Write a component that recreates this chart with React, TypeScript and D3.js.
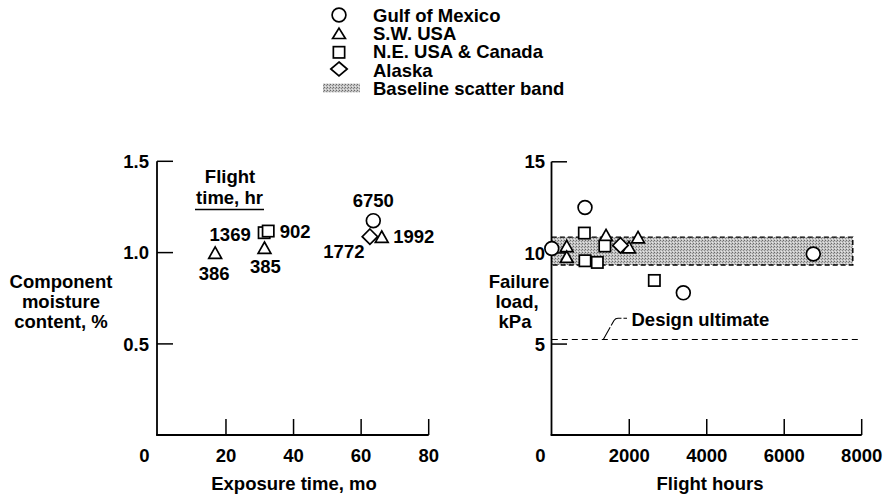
import React from "react";
import * as d3 from "d3";

// ---------- Data ----------
const seriesNames = ["Gulf of Mexico", "S.W. USA", "N.E. USA & Canada", "Alaska"];
const seriesKeys = ["gulf", "sw", "ne", "alaska"];

// Left panel: component moisture vs exposure time
const leftSeries = ["sw", "sw", "ne", "ne", "gulf", "alaska", "sw"];
const leftExposureMo = [16.8, 31.4, 31.3, 32.5, 63.6, 62.6, 66.1];
const leftMoisturePct = [1.0, 1.027, 1.109, 1.118, 1.175, 1.087, 1.087];
const leftFlightHrLabels = ["386", "385", "1369", "902", "6750", "1772", "1992"];
const leftLabelOffsets: [number, number][] = [
  [-1, 21], [1, 19], [-34, 2], [27, 0], [0, -20], [-26, 15], [32, 0],
];

// Right panel: failure load vs flight hours
const rightSeries = [
  "gulf", "gulf", "gulf", "gulf",
  "sw", "sw", "sw", "sw", "sw",
  "ne", "ne", "ne", "ne", "ne",
  "alaska",
];
const rightFlightHours = [
  0, 857, 3395, 6750,
  385, 386, 1400, 1992, 2226,
  840, 857, 1175, 1369, 2647,
  1772,
];
const rightFailureKPa = [
  10.24, 12.49, 7.81, 9.94,
  10.38, 9.79, 10.98, 10.32, 10.87,
  11.09, 9.57, 9.48, 10.38, 8.49,
  10.41,
];

const bandHours = [0, 7770];
const bandKPa = [9.34, 10.87];
const designUltimateKPa = 5.25;

const leftXTicks = [0, 20, 40, 60, 80];
const leftYTicks = [0.5, 1.0, 1.5];
const rightXTicks = [0, 2000, 4000, 6000, 8000];
const rightYTicks = [5, 10, 15];

// ---------- Layout ----------
const W = 887;
const H = 495;
const FONT = "'Liberation Sans', Arial, Helvetica, sans-serif";
const FS = 18.5;

const xL = d3.scaleLinear().domain([0, 80]).range([158.4, 428.7]);
const yL = d3.scaleLinear().domain([0, 1.5]).range([435.2, 161.3]);
const xR = d3.scaleLinear().domain([0, 8000]).range([551.8, 861.7]);
const yR = d3.scaleLinear().domain([0, 15]).range([435.2, 161.8]);

const SW = 1.7;

function Marker({ kind, x, y, legend = false }: { kind: string; x: number; y: number; legend?: boolean }) {
  const common = { fill: "#fff", stroke: "#000", strokeWidth: SW };
  if (kind === "gulf") {
    return <circle cx={x} cy={y} r={6.9} {...common} />;
  }
  if (kind === "ne") {
    const s = 11.3;
    return <rect x={x - s / 2} y={y - s / 2} width={s} height={s} {...common} />;
  }
  if (kind === "sw") {
    const hw = 6.4;
    const hh = legend ? 5.2 : 5.7;
    return <path d={`M${x},${y - hh}L${x + hw},${y + hh}L${x - hw},${y + hh}Z`} {...common} strokeLinejoin="miter" />;
  }
  // alaska diamond
  const hw = legend ? 8.2 : 7.7;
  const hh = legend ? 7 : 7.7;
  return <path d={`M${x},${y - hh}L${x + hw},${y}L${x},${y + hh}L${x - hw},${y}Z`} {...common} />;
}

function T({ x, y, children, anchor = "middle" }: { x: number; y: number; children: React.ReactNode; anchor?: string }) {
  // y is the vertical centre of capitals
  return (
    <text x={x} y={y + 6.6} textAnchor={anchor as any} fontFamily={FONT} fontWeight="bold" fontSize={FS} fill="#000">
      {children}
    </text>
  );
}

export default function App() {
  const legendRows = [15, 33.3, 51.7, 70, 88.3];
  return (
    <svg width={W} height={H} style={{ position: "absolute", left: 0, top: 0, background: "#fff" }}>
      <defs>
        <pattern id="stipple" width="3" height="3" patternUnits="userSpaceOnUse">
          <rect width="3" height="3" fill="#c4c4c4" />
          <rect x="0" y="0" width="1" height="1" fill="#6a6a6a" />
          <rect x="2" y="1" width="1" height="1" fill="#8a8a8a" />
          <rect x="1" y="2" width="1" height="1" fill="#e6e6e6" />
        </pattern>
      </defs>
      <rect width={W} height={H} fill="#fff" />

      {/* Legend */}
      {seriesKeys.map((k, i) => (
        <g key={k}>
          <Marker kind={k} x={339} y={legendRows[i] + (k === "ne" ? 0.6 : k === "alaska" ? -1 : 0)} legend />
          <T x={373} y={legendRows[i]} anchor="start">{seriesNames[i]}</T>
        </g>
      ))}
      <rect x={323} y={83.5} width={37} height={9} fill="url(#stipple)" />
      <T x={373} y={legendRows[4]} anchor="start">Baseline scatter band</T>

      {/* ---------- Left panel ---------- */}
      <g>
        <line x1={157} y1={yL(1.5)} x2={157} y2={435.5} stroke="#000" strokeWidth={1.8} />
        <line x1={156.2} y1={435} x2={xL(80)} y2={435} stroke="#000" strokeWidth={1.8} />
        {leftYTicks.map((t) => (
          <g key={t}>
            <line x1={157} x2={173} y1={yL(t)} y2={yL(t)} stroke="#000" strokeWidth={1.5} />
            <T x={149} y={yL(t)} anchor="end">{t.toFixed(1)}</T>
          </g>
        ))}
        {leftXTicks.map((t) => (
          <g key={t}>
            {t > 0 && <line x1={xL(t)} x2={xL(t)} y1={435} y2={419} stroke="#000" strokeWidth={1.5} />}
            <T x={t === 0 ? xL(t) - 14 : xL(t)} y={455}>{String(t)}</T>
          </g>
        ))}
        <T x={294} y={483}>Exposure time, mo</T>
        <T x={61} y={281}>Component</T>
        <T x={61} y={301}>moisture</T>
        <T x={61} y={321}>content, %</T>

        <T x={230} y={176}>Flight</T>
        <T x={229.5} y={197.5}>time, hr</T>
        <line x1={195} x2={264} y1={209.5} y2={209.5} stroke="#000" strokeWidth={1.5} />

        {leftSeries.map((k, i) => (
          <Marker key={i} kind={k} x={xL(leftExposureMo[i])} y={yL(leftMoisturePct[i])} />
        ))}
        {leftFlightHrLabels.map((lab, i) => (
          <T key={lab} x={xL(leftExposureMo[i]) + leftLabelOffsets[i][0]} y={yL(leftMoisturePct[i]) + leftLabelOffsets[i][1]}>
            {lab}
          </T>
        ))}
      </g>

      {/* ---------- Right panel ---------- */}
      <g>
        {/* scatter band */}
        <rect
          x={xR(bandHours[0])}
          y={yR(bandKPa[1])}
          width={xR(bandHours[1]) - xR(bandHours[0])}
          height={yR(bandKPa[0]) - yR(bandKPa[1])}
          fill="url(#stipple)"
        />
        <path
          d={`M${xR(bandHours[0])},${yR(bandKPa[1])}H${xR(bandHours[1])}V${yR(bandKPa[0])}H${xR(bandHours[0])}`}
          fill="none"
          stroke="#000"
          strokeWidth={1.4}
          strokeDasharray="5,3"
        />
        {/* design ultimate */}
        <line
          x1={xR(0)}
          x2={xR(8000)}
          y1={yR(designUltimateKPa)}
          y2={yR(designUltimateKPa)}
          stroke="#000"
          strokeWidth={1}
          strokeDasharray="6,4"
        />
        <path d={`M603.3,${yR(designUltimateKPa)}L614,320.5Q615.5,318.3 618,318.3H627`} fill="none" stroke="#000" strokeWidth={1.1} strokeDasharray="14,2" />
        <T x={631.5} y={319} anchor="start">Design ultimate</T>

        <line x1={551.5} y1={yR(15)} x2={551.5} y2={435.5} stroke="#000" strokeWidth={1.8} />
        <line x1={550.7} y1={435} x2={xR(8000)} y2={435} stroke="#000" strokeWidth={1.8} />
        {rightYTicks.map((t) => (
          <g key={t}>
            <line x1={551.5} x2={567} y1={yR(t)} y2={yR(t)} stroke="#000" strokeWidth={1.5} />
            <T x={545} y={yR(t)} anchor="end">{String(t)}</T>
          </g>
        ))}
        {rightXTicks.map((t) => (
          <g key={t}>
            {t > 0 && <line x1={xR(t)} x2={xR(t)} y1={435} y2={419} stroke="#000" strokeWidth={1.5} />}
            <T x={t === 0 ? xR(t) - 11.5 : xR(t)} y={455}>{String(t)}</T>
          </g>
        ))}
        <T x={710} y={483}>Flight hours</T>
        <T x={519} y={281}>Failure</T>
        <T x={517} y={301}>load,</T>
        <T x={515} y={321}>kPa</T>

        {rightSeries.map((k, i) => (
          <Marker key={i} kind={k} x={xR(rightFlightHours[i])} y={yR(rightFailureKPa[i])} />
        ))}
      </g>
    </svg>
  );
}
